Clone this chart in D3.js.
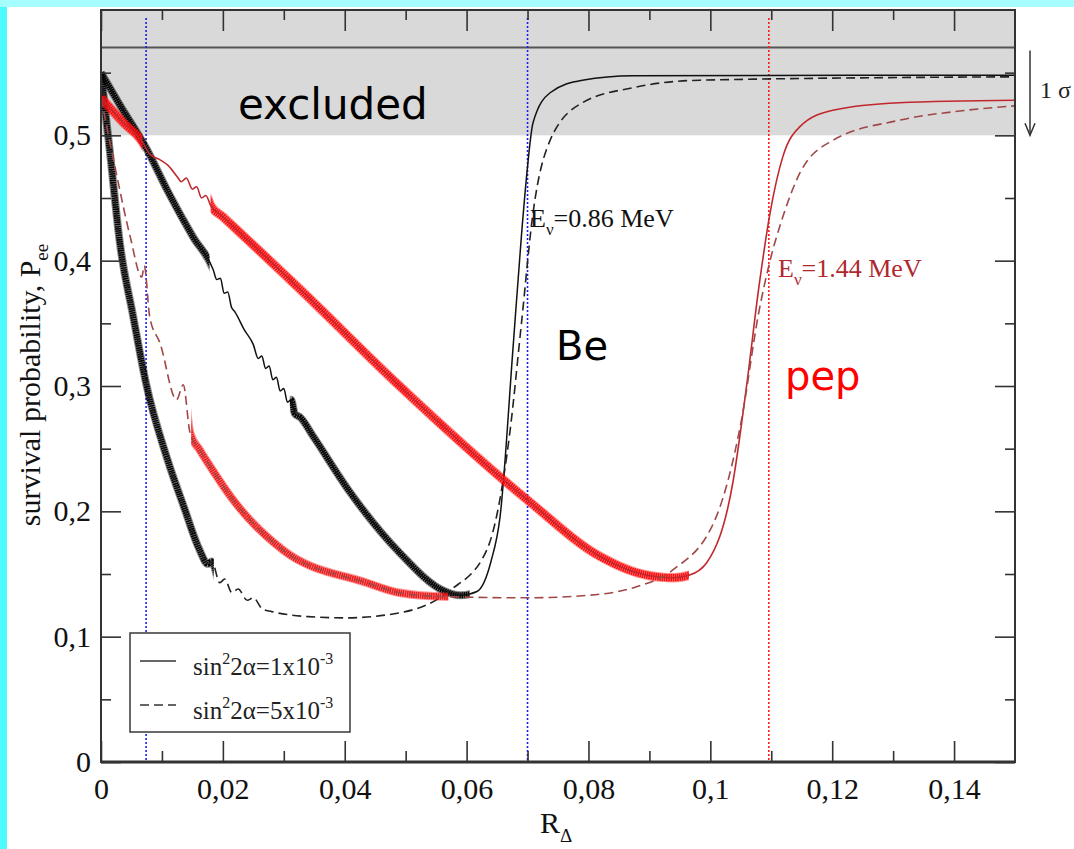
<!DOCTYPE html>
<html>
<head>
<meta charset="utf-8">
<script src="https://cdn.jsdelivr.net/npm/d3@7"></script>
<style>
  body { margin: 0; background: #4cfbfb; overflow: hidden; }
  #graph { width: 1074px; height: 849px; }
  text { font-family: "Liberation Serif", "Times New Roman", serif; }
  .comic { font-family: "Comic Sans MS", "DejaVu Sans", sans-serif; }
</style>
</head>
<body>
<div id="graph"></div>
<script>
// ticks
const xTicks = [0, 0.02, 0.04, 0.06, 0.08, 0.1, 0.12, 0.14];
const xTickLabels = ["0", "0,02", "0,04", "0,06", "0,08", "0,1", "0,12", "0,14"];
const xMinorTicks = [0.01, 0.03, 0.05, 0.07, 0.09, 0.11, 0.13];
const yTicks = [0, 0.1, 0.2, 0.3, 0.4, 0.5];
const yTickLabels = ["0", "0,1", "0,2", "0,3", "0,4", "0,5"];
const yMinorTicks = [0.05, 0.15, 0.25, 0.35, 0.45, 0.55];

// survival probability vs R_Delta
const beSolid = [
  [0, 0.550], [0.003, 0.525], [0.0074, 0.490], [0.011, 0.455], [0.0151, 0.419], [0.0184, 0.393],
  [0.0190, 0.385], [0.0196, 0.386], [0.0202, 0.374], [0.0208, 0.375], [0.0214, 0.363], [0.0220, 0.359],
  [0.0235, 0.345], [0.0250, 0.333], [0.0258, 0.322], [0.0264, 0.324], [0.0270, 0.314], [0.0276, 0.316],
  [0.0282, 0.305], [0.0288, 0.307], [0.0294, 0.296], [0.0300, 0.298], [0.0306, 0.287], [0.0312, 0.289],
  [0.0318, 0.278], [0.0327, 0.275], [0.0348, 0.260], [0.0409, 0.215], [0.0490, 0.167], [0.0561, 0.137],
  [0.0590, 0.133], [0.0617, 0.136], [0.0640, 0.160], [0.0655, 0.196], [0.0676, 0.329], [0.0690, 0.420],
  [0.0699, 0.470], [0.0709, 0.510], [0.0737, 0.534], [0.0790, 0.544], [0.0873, 0.5475], [0.150, 0.548]
];
const beDashed = [
  [0, 0.550], [0.0015, 0.485], [0.0031, 0.414], [0.0053, 0.355], [0.0074, 0.302], [0.0108, 0.243],
  [0.0135, 0.205], [0.0162, 0.169], [0.0175, 0.158], [0.0182, 0.160], [0.0195, 0.143], [0.0203, 0.146],
  [0.0215, 0.135], [0.0225, 0.138], [0.0240, 0.129], [0.0250, 0.131], [0.0265, 0.122], [0.0280, 0.120],
  [0.0340, 0.116], [0.0400, 0.115], [0.0490, 0.119], [0.0573, 0.137], [0.0633, 0.169], [0.0671, 0.263],
  [0.0690, 0.350], [0.0709, 0.438], [0.0737, 0.496], [0.0790, 0.526], [0.0873, 0.538], [0.0983, 0.544],
  [0.150, 0.5467]
];
const pepSolid = [
  [0, 0.530], [0.0035, 0.511], [0.0069, 0.494], [0.0080, 0.485], [0.0095, 0.481], [0.0110, 0.476],
  [0.0125, 0.467], [0.0132, 0.463], [0.0140, 0.466], [0.0150, 0.457], [0.0157, 0.459], [0.0165, 0.450],
  [0.0172, 0.452], [0.0180, 0.444], [0.0200, 0.435], [0.0327, 0.377], [0.0490, 0.300], [0.0700, 0.209],
  [0.0819, 0.164], [0.0880, 0.151], [0.0938, 0.147], [0.0965, 0.149], [0.0994, 0.159], [0.1037, 0.223],
  [0.1060, 0.302], [0.1080, 0.380], [0.1098, 0.438], [0.1119, 0.483], [0.1147, 0.507], [0.1201, 0.520],
  [0.1310, 0.526], [0.150, 0.528]
];
const pepDashed = [
  [0, 0.530], [0.0025, 0.470], [0.0048, 0.419], [0.0067, 0.387], [0.0071, 0.396], [0.0080, 0.355],
  [0.0097, 0.334], [0.0124, 0.289], [0.0135, 0.301], [0.0146, 0.263], [0.0162, 0.249], [0.0179, 0.236],
  [0.0217, 0.209], [0.0299, 0.169], [0.0436, 0.143], [0.0490, 0.135], [0.0560, 0.132], [0.0700, 0.131],
  [0.0800, 0.133], [0.0880, 0.140], [0.0938, 0.153], [0.1010, 0.196], [0.1050, 0.270], [0.1080, 0.360],
  [0.1098, 0.400], [0.1119, 0.435], [0.1147, 0.470], [0.1201, 0.496], [0.1310, 0.512], [0.1420, 0.520],
  [0.150, 0.5235]
];

const excludedLevel = 0.5;
const oneSigmaLevel = 0.57;
const blueMarks = [0.0074, 0.07];
const redMarks = [0.1096];

const W = 1074, H = 849;
const x = d3.scaleLinear().domain([0, 0.15]).range([101, 1015]);
const y = d3.scaleLinear().domain([0, 0.6]).range([762, 10]);

// fast oscillations show as a fuzzy band over part of each curve
const series = [
  { name: "be-solid", data: beSolid, color: "#111", dash: null, width: 1.5,
    bands: [[0, 0.0178], [0.031, 0.0605]], bandColor: "#000", bandWidth: 6 },
  { name: "be-dashed", data: beDashed, color: "#222", dash: "9,5", width: 1.6,
    bands: [[0, 0.0185]], bandColor: "#000", bandWidth: 6 },
  { name: "pep-solid", data: pepSolid, color: "#c0282e", dash: null, width: 1.6,
    bands: [[0, 0.0068], [0.018, 0.0965]], bandColor: "#ff0a0a", bandWidth: 7.5 },
  { name: "pep-dashed", data: pepDashed, color: "#a04848", dash: "9,5", width: 1.6,
    bands: [[0.0148, 0.057]], bandColor: "#f01818", bandWidth: 6.5 }
];

function main() {
  const svg = d3.select("#graph").append("svg").attr("width", W).attr("height", H);
  const defs = svg.append("defs");

  // slide frame
  svg.append("rect").attr("width", W).attr("height", H).attr("fill", "#4cfbfb");
  svg.append("rect").attr("width", W).attr("height", 7).attr("fill", "#a6fdfd");
  svg.append("rect").attr("x", 7).attr("y", 7).attr("width", W - 7).attr("height", H - 7).attr("fill", "#fff");

  const [x0, x1] = x.range();
  const [yb, yt] = y.range();

  defs.append("clipPath").attr("id", "plot-clip")
    .append("rect").attr("x", x0).attr("y", yt).attr("width", x1 - x0).attr("height", yb - yt);

  // excluded region
  svg.append("rect")
    .attr("x", x0).attr("y", yt).attr("width", x1 - x0).attr("height", y(excludedLevel) - yt)
    .attr("fill", "#d9d9d9");
  svg.append("line")
    .attr("x1", x0).attr("x2", x1).attr("y1", y(oneSigmaLevel)).attr("y2", y(oneSigmaLevel))
    .attr("stroke", "#555").attr("stroke-width", 2);

  // vertical dotted markers
  const marks = blueMarks.map(v => ({ v, c: "#1a1aff" })).concat(redMarks.map(v => ({ v, c: "#ff1a1a" })));
  svg.append("g").selectAll("line").data(marks).join("line")
    .attr("x1", d => x(d.v)).attr("x2", d => x(d.v))
    .attr("y1", yt + 8).attr("y2", yb)
    .attr("stroke", d => d.c).attr("stroke-width", 1.6).attr("stroke-dasharray", "2,2");

  // curves
  const line = d3.line().x(d => x(d[0])).y(d => y(d[1])).curve(d3.curveMonotoneX);
  const curves = svg.append("g").attr("clip-path", "url(#plot-clip)");
  series.forEach(s => {
    const cp = defs.append("clipPath").attr("id", "band-" + s.name);
    s.bands.forEach(b => {
      cp.append("rect").attr("x", x(b[0])).attr("y", yt).attr("width", x(b[1]) - x(b[0])).attr("height", yb - yt);
    });
    const band = curves.append("g").attr("clip-path", "url(#band-" + s.name + ")");
    band.append("path").datum(s.data)
      .attr("d", line).attr("fill", "none")
      .attr("stroke", s.bandColor).attr("stroke-width", s.bandWidth + 2)
      .attr("stroke-opacity", 0.45);
    band.append("path").datum(s.data)
      .attr("d", line).attr("fill", "none")
      .attr("stroke", s.bandColor).attr("stroke-width", s.bandWidth)
      .attr("stroke-dasharray", "1.6,0.6");
    curves.append("path").datum(s.data)
      .attr("d", line).attr("fill", "none")
      .attr("stroke", s.color).attr("stroke-width", s.width)
      .attr("stroke-dasharray", s.dash);
  });

  drawAxes(svg);
  drawLabels(svg);
  drawLegend(svg);
}

function drawAxes(svg) {
  const [x0, x1] = x.range();
  const [yb, yt] = y.range();
  const tickStyle = g => {
    g.select(".domain").remove();
    g.selectAll(".tick line").attr("stroke", "#333").attr("stroke-width", 1.6);
    g.selectAll(".tick text").attr("fill", "#111").style("font-size", "30px")
      .style("font-family", "'Liberation Serif', serif");
  };

  svg.append("g").attr("transform", `translate(0,${yb})`)
    .call(d3.axisBottom(x).tickValues(xTicks).tickSize(-21).tickPadding(16)
      .tickFormat((d, i) => xTickLabels[i]))
    .call(tickStyle);
  svg.append("g").attr("transform", `translate(0,${yb})`)
    .call(d3.axisBottom(x).tickValues(xMinorTicks).tickSize(-11).tickFormat(""))
    .call(tickStyle);
  svg.append("g").attr("transform", `translate(0,${yt})`)
    .call(d3.axisTop(x).tickValues(xTicks).tickSize(-21).tickFormat(""))
    .call(tickStyle);
  svg.append("g").attr("transform", `translate(0,${yt})`)
    .call(d3.axisTop(x).tickValues(xMinorTicks).tickSize(-10).tickFormat(""))
    .call(tickStyle);

  svg.append("g").attr("transform", `translate(${x0},0)`)
    .call(d3.axisLeft(y).tickValues(yTicks).tickSize(-20).tickPadding(10)
      .tickFormat((d, i) => yTickLabels[i]))
    .call(tickStyle);
  svg.append("g").attr("transform", `translate(${x0},0)`)
    .call(d3.axisLeft(y).tickValues(yMinorTicks).tickSize(-10).tickFormat(""))
    .call(tickStyle);
  svg.append("g").attr("transform", `translate(${x1},0)`)
    .call(d3.axisRight(y).tickValues(yTicks).tickSize(-20).tickFormat(""))
    .call(tickStyle);
  svg.append("g").attr("transform", `translate(${x1},0)`)
    .call(d3.axisRight(y).tickValues(yMinorTicks).tickSize(-10).tickFormat(""))
    .call(tickStyle);

  // frame
  svg.append("rect")
    .attr("x", x0).attr("y", yt).attr("width", x1 - x0).attr("height", yb - yt)
    .attr("fill", "none").attr("stroke", "#333").attr("stroke-width", 2);
  svg.append("line").attr("x1", x0).attr("x2", x1).attr("y1", yb).attr("y2", yb)
    .attr("stroke", "#333").attr("stroke-width", 3);

  // axis titles
  const xl = svg.append("text").attr("x", 556).attr("y", 833)
    .attr("text-anchor", "middle").style("font-size", "30px").attr("fill", "#111");
  xl.append("tspan").text("R");
  xl.append("tspan").attr("dy", 9).style("font-size", "19px").text("Δ");

  const yl = svg.append("text")
    .attr("transform", "translate(40,385) rotate(-90)")
    .attr("text-anchor", "middle").style("font-size", "30px").attr("fill", "#111");
  yl.append("tspan").text("survival probability, P");
  yl.append("tspan").attr("dy", 8).style("font-size", "19px").text("ee");
}

function drawLabels(svg) {
  svg.append("text").attr("class", "comic").attr("x", 238).attr("y", 119)
    .style("font-size", "42px").attr("fill", "#000").text("excluded");
  svg.append("text").attr("class", "comic").attr("x", 556).attr("y", 360)
    .style("font-size", "40px").attr("fill", "#000").text("Be");
  svg.append("text").attr("class", "comic").attr("x", 785).attr("y", 390)
    .style("font-size", "40px").attr("fill", "#ff0000").text("pep");

  const energy = (xp, yp, value, color) => {
    const t = svg.append("text").attr("x", xp).attr("y", yp)
      .style("font-size", "26px").attr("fill", color);
    t.append("tspan").text("E");
    t.append("tspan").attr("dy", 8).style("font-size", "17px").text("ν");
    t.append("tspan").attr("dy", -8).text("=" + value + " MeV");
  };
  energy(530, 227, "0.86", "#111");
  energy(778, 277, "1.44", "#b0282e");

  // 1 sigma arrow
  const ax = 1030;
  svg.append("line").attr("x1", ax).attr("x2", ax)
    .attr("y1", y(oneSigmaLevel) + 3).attr("y2", y(excludedLevel))
    .attr("stroke", "#333").attr("stroke-width", 1.5);
  svg.append("path")
    .attr("d", `M${ax - 5},${y(excludedLevel) - 12} L${ax},${y(excludedLevel)} L${ax + 5},${y(excludedLevel) - 12}`)
    .attr("fill", "none").attr("stroke", "#333").attr("stroke-width", 1.5);
  svg.append("text").attr("x", 1040).attr("y", 98)
    .style("font-size", "24px").attr("fill", "#222").text("1 σ");
}

function drawLegend(svg) {
  const g = svg.append("g");
  g.append("rect").attr("x", 130).attr("y", 633).attr("width", 220).attr("height", 99)
    .attr("fill", "#fff").attr("stroke", "#444").attr("stroke-width", 1.6);
  const items = [
    { dash: null, value: "1" },
    { dash: "9,5", value: "5" }
  ];
  items.forEach((it, i) => {
    const yy = 661 + i * 44;
    g.append("line").attr("x1", 140).attr("x2", 176).attr("y1", yy).attr("y2", yy)
      .attr("stroke", "#333").attr("stroke-width", 1.6).attr("stroke-dasharray", it.dash);
    const t = g.append("text").attr("x", 193).attr("y", yy + 14)
      .style("font-size", "25px").attr("fill", "#222");
    t.append("tspan").text("sin");
    t.append("tspan").attr("dy", -11).style("font-size", "16px").text("2");
    t.append("tspan").attr("dy", 11).text("2α=" + it.value + "x10");
    t.append("tspan").attr("dy", -11).style("font-size", "16px").text("-3");
  });
}

main();
</script>
</body>
</html>
